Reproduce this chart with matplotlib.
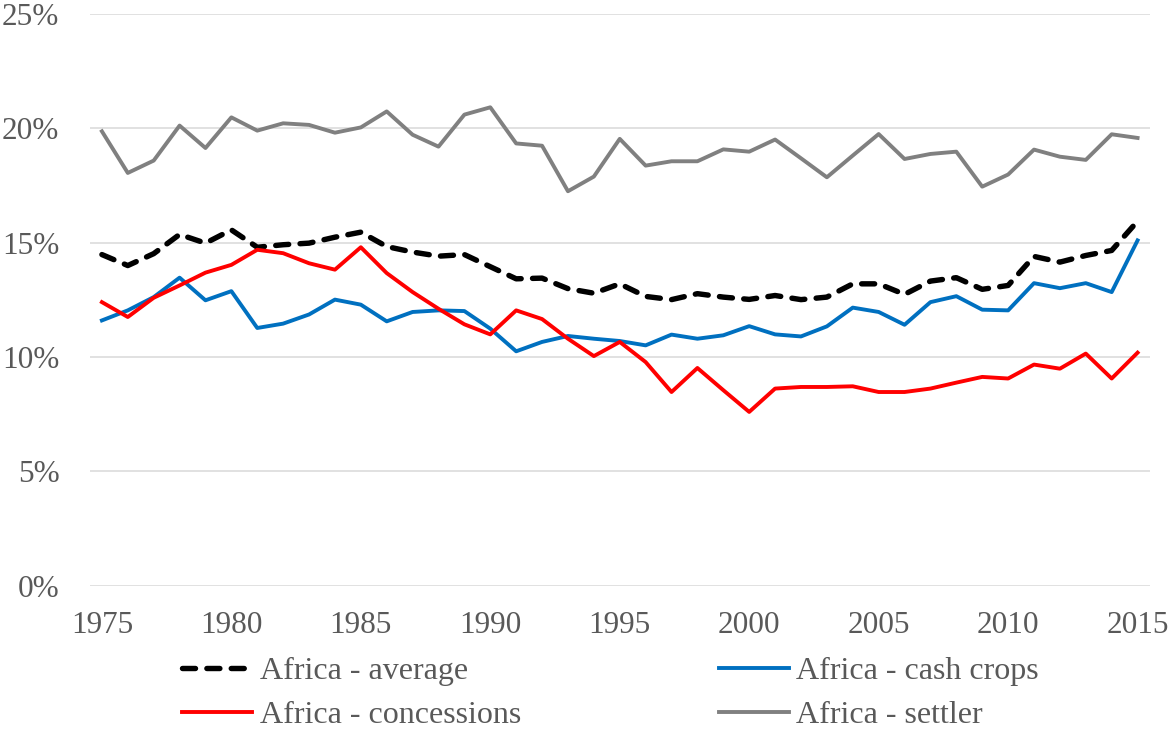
import numpy as np
import matplotlib
matplotlib.use("Agg")
import matplotlib.pyplot as plt
from matplotlib.ticker import FuncFormatter

# ---------------------------------------------------------------------
# Data (percent)
# ---------------------------------------------------------------------

years = list(range(1975, 2016))

average = [14.48, 14.00, 14.52, 15.36, 14.98, 15.56, 14.80, 14.91, 14.98, 15.24,
           15.46, 14.83, 14.59, 14.41, 14.48, 13.95, 13.42, 13.45, 12.99, 12.79,
           13.20, 12.65, 12.51, 12.77, 12.62, 12.52, 12.69, 12.51, 12.62, 13.20,
           13.20, 12.74, 13.32, 13.47, 12.96, 13.13, 14.40, 14.15, 14.44, 14.66,
           15.94]

cash_crops = [11.60, 12.04, 12.62, 13.47, 12.48, 12.88, 11.27, 11.46, 11.86, 12.51,
              12.29, 11.56, 11.97, 12.04, 12.01, 11.24, 10.25, 10.66, 10.92, 10.80,
              10.70, 10.51, 10.98, 10.80, 10.95, 11.35, 10.99, 10.90, 11.34, 12.16,
              11.97, 11.41, 12.40, 12.66, 12.07, 12.04, 13.23, 13.01, 13.23, 12.84,
              15.10]

concessions = [12.40, 11.75, 12.59, 13.13, 13.69, 14.03, 14.69, 14.54, 14.10, 13.82,
               14.80, 13.67, 12.84, 12.11, 11.43, 10.99, 12.04, 11.66, 10.80, 10.04,
               10.66, 9.78, 8.47, 9.52, 8.55, 7.60, 8.62, 8.69, 8.69, 8.72,
               8.47, 8.47, 8.62, 8.88, 9.13, 9.06, 9.67, 9.49, 10.15, 9.06,
               10.19]

settler = [19.87, 18.05, 18.59, 20.12, 19.14, 20.48, 19.90, 20.22, 20.15, 19.81,
           20.04, 20.74, 19.72, 19.20, 20.60, 20.92, 19.34, 19.24, 17.25, 17.89,
           19.54, 18.37, 18.56, 18.56, 19.08, 18.98, 19.51, 18.69, 17.86, 18.81,
           19.75, 18.66, 18.88, 18.98, 17.45, 17.98, 19.07, 18.76, 18.62, 19.74,
           19.58]

x_ticks = list(range(1975, 2016, 5))
y_ticks = [0, 5, 10, 15, 20, 25]

# ---------------------------------------------------------------------
# Plot
# ---------------------------------------------------------------------

plt.rcParams["font.family"] = ["Liberation Serif", "DejaVu Serif"]

fig = plt.figure(figsize=(11.69, 7.31), dpi=100)
ax = fig.add_axes([90 / 1169, (731 - 585.7) / 731,
                   (1150 - 90) / 1169, (585.7 - 14) / 731])

ax.plot(years, average, color="black", lw=3.9, linestyle=(0, (2.4, 2.1)),
        dash_capstyle="round", solid_joinstyle="round",
        label="Africa - average", zorder=3)
ax.plot(years, cash_crops, color="#0070C0", lw=2.8, solid_joinstyle="round",
        label="Africa - cash crops", zorder=4)
ax.plot(years, concessions, color="#FF0000", lw=2.8, solid_joinstyle="round",
        label="Africa - concessions", zorder=5)
ax.plot(years, settler, color="#808080", lw=2.8, solid_joinstyle="round",
        label="Africa - settler", zorder=6)

ax.set_xlim(1975 - 0.46, 2015 + 0.48)
ax.set_ylim(0, 25)
ax.set_xticks(x_ticks)
ax.set_yticks(y_ticks)
ax.yaxis.set_major_formatter(FuncFormatter(lambda v, _: f"{v:.0f}%"))

ax.grid(axis="y", color="#D9D9D9", lw=1.1, zorder=0)
ax.set_axisbelow(True)
for s in ax.spines.values():
    s.set_visible(False)

ax.tick_params(axis="both", length=0, labelsize=22.5, labelcolor="#595959")
ax.tick_params(axis="y", pad=22)
ax.tick_params(axis="x", pad=18)

# legend: row 1 = average, cash crops; row 2 = concessions, settler
h, l = ax.get_legend_handles_labels()
order = [0, 2, 1, 3]
leg = ax.legend([h[i] for i in order], [l[i] for i in order],
                ncol=2, loc="upper left", bbox_to_anchor=(0.087, -0.124),
                frameon=False, fontsize=23, handlelength=2.2,
                handletextpad=0.22, columnspacing=6.2, labelspacing=0.45,
                borderaxespad=0, borderpad=0)
for t in leg.get_texts():
    t.set_color("#595959")

fig.savefig("out.png", dpi=100)
plt.close(fig)
